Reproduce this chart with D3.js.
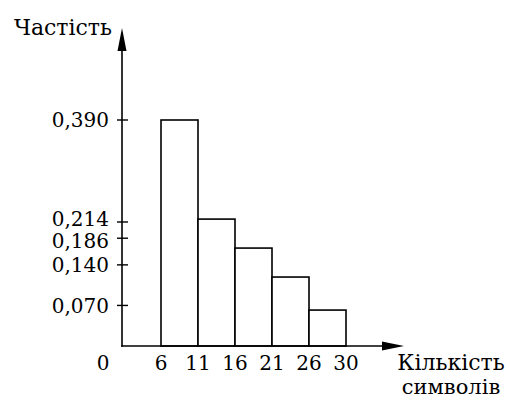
<!DOCTYPE html>
<html><head><meta charset="utf-8">
<script src="https://cdn.jsdelivr.net/npm/d3@7"></script>
<style>html,body{margin:0;padding:0;background:#fff;}svg{display:block;}</style>
</head><body>
<svg id="c" width="510" height="401"></svg>
<script>
// interval boundaries (number of characters)
const boundaries = ["6", "11", "16", "21", "26", "30"];
// relative frequency of each interval (bar heights as drawn)
const frequencies = [0.390, 0.219, 0.169, 0.119, 0.062];
// y tick labels
const yTicks = [0.070, 0.140, 0.186, 0.214, 0.390];
const yTitle = "Частість";
const xTitle = ["Кількість", "символів"];

const FONT = '"DejaVu Serif", serif';
const svg = d3.select("#c");
const x0 = 122, yBase = 346;

const x = d3.scalePoint().domain(boundaries).range([161, 346]);
const y = d3.scaleLinear().domain([0, 0.39]).range([yBase, 120]);

const fmt = v => d3.format(".3f")(v).replace(".", ",");

// bars
svg.append("g").selectAll("rect").data(frequencies).join("rect")
  .attr("x", (d, i) => x(boundaries[i]))
  .attr("width", (d, i) => x(boundaries[i + 1]) - x(boundaries[i]))
  .attr("y", d => y(d))
  .attr("height", d => y(0) - y(d))
  .attr("fill", "#fff").attr("stroke", "#000").attr("stroke-width", 1.6);

// axes lines
svg.append("line").attr("x1", x0).attr("x2", x0).attr("y1", yBase + 0.8).attr("y2", 40)
  .attr("stroke", "#000").attr("stroke-width", 1.6);
svg.append("line").attr("x1", x0 - 0.8).attr("x2", 392).attr("y1", yBase).attr("y2", yBase)
  .attr("stroke", "#000").attr("stroke-width", 1.6);
// arrowheads
svg.append("path").attr("d", `M${x0},28 L${x0 - 4.5},51 L${x0 + 4.5},51 Z`).attr("fill", "#000");
svg.append("path").attr("d", `M404,${yBase} L382,${yBase - 4.5} L382,${yBase + 4.5} Z`).attr("fill", "#000");

// y ticks
const yt = svg.append("g").selectAll("g").data(yTicks).join("g")
  .attr("transform", d => `translate(0,${y(d)})`);
yt.append("line").attr("x1", x0 - 5).attr("x2", x0 + 6).attr("stroke", "#000").attr("stroke-width", 1.4);

// tick labels, nudged apart where they would collide
const labels = yTicks.map(v => ({v, pos: y(v)})).sort((a, b) => a.pos - b.pos);
const minGap = 22;
for (let k = 0; k < 5; k++) {
  for (let i = 1; i < labels.length; i++) {
    const gap = labels[i].pos - labels[i - 1].pos;
    if (gap < minGap) {
      const s = (minGap - gap) / 2;
      labels[i - 1].pos -= s; labels[i].pos += s;
    }
  }
}
svg.append("g").selectAll("text").data(labels).join("text")
  .attr("x", 109).attr("y", d => d.pos).attr("dy", "0.36em").attr("text-anchor", "end")
  .style("font-family", FONT).style("font-size", "20px").text(d => fmt(d.v));

// x tick labels
svg.append("g").selectAll("text").data(boundaries).join("text")
  .attr("x", d => x(d)).attr("y", 370).attr("text-anchor", "middle")
  .style("font-family", FONT).style("font-size", "20px").text(d => d);
svg.append("text").attr("x", 103).attr("y", 370).attr("text-anchor", "middle")
  .style("font-family", FONT).style("font-size", "20px").text("0");

// titles
svg.append("text").attr("x", 112).attr("y", 35).attr("text-anchor", "end")
  .style("font-family", FONT).style("font-size", "22px").text(yTitle);
svg.append("text").attr("x", 451).attr("y", 370).attr("text-anchor", "middle")
  .style("font-family", FONT).style("font-size", "22px").text(xTitle[0]);
svg.append("text").attr("x", 451).attr("y", 394).attr("text-anchor", "middle")
  .style("font-family", FONT).style("font-size", "21px").text(xTitle[1]);
</script>
</body></html>
